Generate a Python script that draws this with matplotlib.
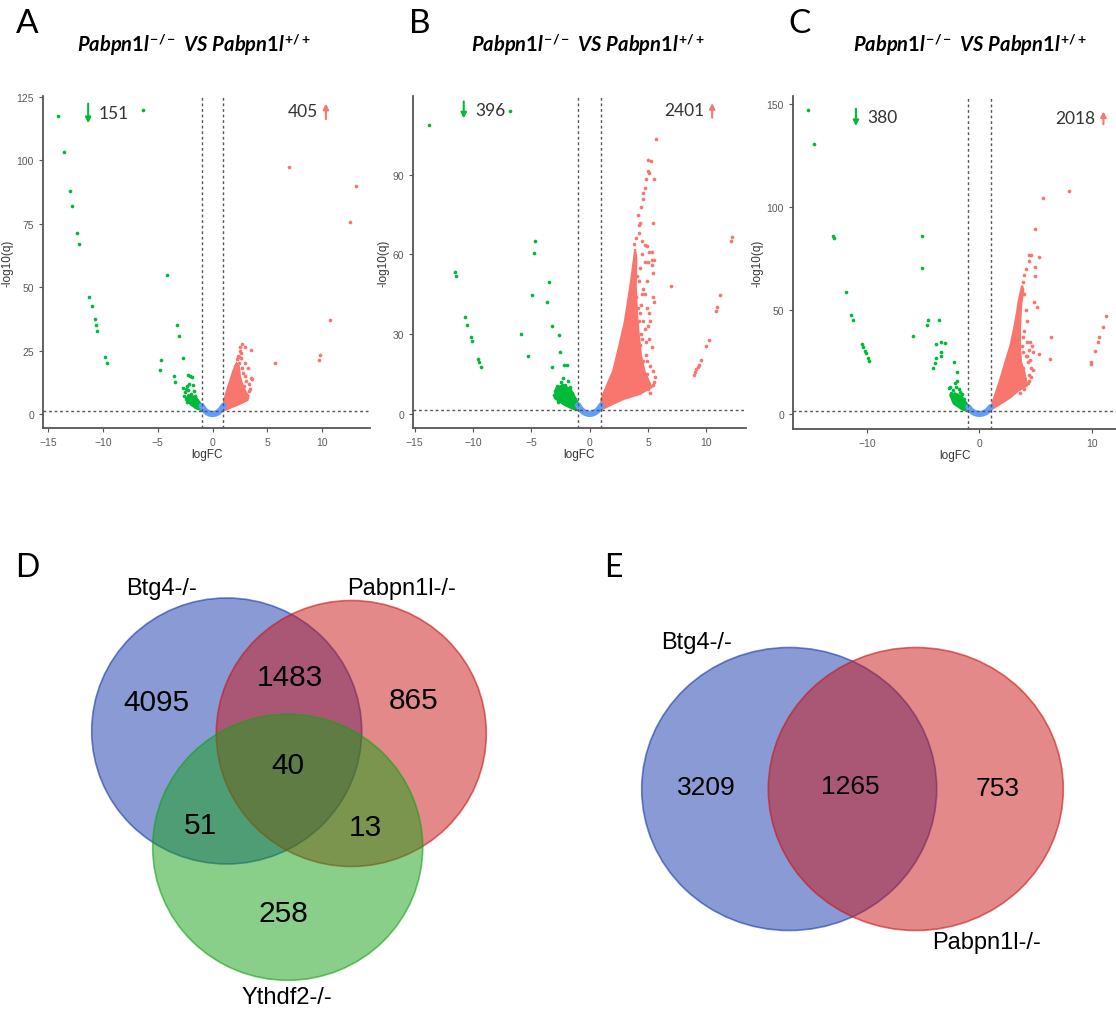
import matplotlib
matplotlib.use('Agg')
import matplotlib.pyplot as plt
from matplotlib.patches import Ellipse, Polygon

W, H = 1116, 1012

# ---------- colours ----------
GREEN = '#00BA38'
RED = '#F8766D'
BLUE = '#619CFF'

# ---------- volcano data ----------
# panel A
a_gx = [-14.1, -13.57, -13.05, -12.84, -12.35, -12.23, -11.28, -11.04, -10.76, -10.64, -10.52, -9.82, -9.63,
        -6.34, -4.12, -4.70, -4.76, -3.26, -3.08, -2.74, -3.51, -3.41,
        -2.2, -2.04, -1.9, -2.35, -1.8, -2.7, -2.5, -2.6, -2.2, -2.0, -1.7, -2.4, -2.1, -1.9, -1.6, -1.5,
        -1.3, -1.2, -1.1, -1.4, -1.7, -2.0, -2.3, -1.8, -2.45, -2.15]
a_gy = [117.5, 103, 87.7, 82, 71.4, 66.9, 45.9, 42.5, 37.3, 34.9, 32.5, 22.6, 20.2,
        119.6, 54.6, 21.4, 17.2, 35.2, 30.7, 21.9, 14.8, 12.7,
        15.5, 15, 14.4, 11.2, 11.4, 10.1, 8.5, 7.2, 9.5, 8, 9.2, 6, 6.5, 5.5, 7, 5,
        4, 3, 2.2, 2.7, 3.5, 4.5, 4.8, 6.2, 9.8, 12.0]
a_rx = [6.95, 13.14, 12.56, 10.73, 9.85, 9.73, 5.67,
        2.38, 2.69, 2.93, 2.47, 3.5, 2.32, 2.6, 2.2, 2.45, 2.7, 2.8, 3.0, 3.5, 3.6, 3.3, 3.45, 2.9, 3.1,
        2.6, 2.55, 3.0, 3.2, 2.1, 2.35, 3.35, 2.85]
a_ry = [97.4, 89.9, 75.7, 37.1, 23.2, 21.3, 20.1,
        22.3, 27.6, 26.5, 26.2, 25.3, 23.0, 24.0, 21.5, 20.0, 18.0, 16.0, 15.0, 14.0, 13.8, 12.0, 10.0, 11.0, 13.0,
        22.0, 25.0, 20.0, 18.0, 19.0, 17.0, 9.0, 7.5]
a_r_core = [(1.0, 1.5), (1.0, 4), (1.3, 9), (1.6, 13), (1.9, 17), (2.2, 20), (2.4, 19), (2.5, 15), (2.7, 12),
            (3.0, 9), (3.3, 7), (3.2, 5.5), (2.5, 4), (1.8, 2.8), (1.3, 1.8)]
a_g_core = [(-1.0, 1.5), (-1.0, 3.5), (-1.5, 6.5), (-2.2, 7.5), (-2.4, 6), (-2.0, 3.8), (-1.5, 2.2)]

# panel B
b_gx = [-13.8, -6.8, -11.51, -11.43, -10.69, -10.49, -10.17, -10.11, -9.6, -9.46, -9.34,
        -4.66, -4.74, -3.51, -4.97, -3.66, -5.89, -3.23, -2.66, -5.31, -2.57, -3.23, -2.23, -1.94,
        -3.0, -2.8, -2.5, -2.3, -2.1, -1.9, -1.7, -1.5, -1.3, -2.9, -2.6, -2.4, -2.0, -1.8, -1.6,
        -1.2, -1.1, -2.2, -2.7, -3.1, -1.4]
b_gy = [108.8, 114, 53.3, 51.8, 36.4, 33.5, 28.9, 27.6, 20.7, 19.4, 17.8,
        64.9, 60.6, 49.8, 44.7, 42, 30.2, 33.2, 29.7, 21.7, 23.2, 17.7, 18.4, 18.4,
        8.5, 10.5, 12.0, 13.5, 11.0, 12.5, 10.0, 8.0, 5.5, 6.0, 7.5, 9.0, 9.5, 7.0, 6.5,
        3.5, 2.5, 5.0, 4.5, 7.0, 4.0]
b_rx = [5.69, 5.0, 5.29, 4.97, 5.11, 5.49, 12.2, 12.14, 6.97, 11.14, 10.91, 10.86, 10.2, 10.0, 9.54,
        9.34, 9.14, 8.97, 9.05, 9.25,
        4.26, 4.3, 4.2, 4.4, 4.57, 4.6, 4.7, 4.86, 5.4, 5.3, 5.35, 5.3, 5.4, 5.4, 5.5, 5.0, 4.9, 4.5,
        4.7, 4.9, 4.3, 4.5, 4.9, 4.6, 5.0, 4.4, 4.8, 5.3, 4.1, 4.6, 5.2, 4.9, 5.5, 4.0, 4.2, 3.95, 4.1,
        4.35, 4.6, 4.71, 5.11, 5.51, 4.15, 4.45, 3.8, 4.05, 4.75, 5.05,
        3.5, 3.8, 4.2, 4.6, 5.0, 5.4, 4.8, 5.1, 4.5, 4.2, 4.4, 4.7, 5.2, 3.7, 3.9, 4.3, 4.9, 5.4, 5.2,
        4.1, 3.6, 4.8, 5.6, 4.0, 4.3]
b_ry = [103.5, 95.5, 95.1, 91.2, 90.7, 88.2, 66.4, 65.2, 48.3, 44.9, 40.2, 38.6, 27.7, 25.7, 20.1,
        18.4, 16.9, 14.7, 15.8, 17.6,
        70.9, 72, 68, 78, 81, 83, 85, 88.5, 72, 61, 58, 56, 53, 44, 42, 57, 63, 65,
        57, 50, 55, 45, 40, 35, 33, 30, 27, 25, 24, 20, 18, 15, 12, 44, 50, 66, 40,
        38, 47, 63.4, 60.8, 57.8, 75, 60, 64, 52, 45, 38,
        20, 15, 12, 10, 9.5, 11, 22, 28, 28, 35, 41, 32, 35, 28, 24, 18, 20, 16, 8,
        8.5, 9, 13, 14, 14, 26]
b_r_core = [(1.0, 1.8), (1.0, 5.6), (1.5, 11), (2.0, 16), (2.5, 25), (3.0, 34.5), (3.3, 43), (3.57, 50.8),
            (3.75, 57), (3.9, 62), (4.0, 58), (3.95, 48), (4.05, 38), (4.2, 30), (4.4, 22), (4.7, 16),
            (5.1, 12), (5.3, 10), (4.3, 7.5), (2.9, 5.6), (1.9, 3.6), (1.3, 2.3)]
b_g_core = [(-1.0, 1.5), (-1.0, 4.0), (-1.6, 9.0), (-2.3, 11.0), (-2.9, 9.5), (-3.0, 6.0), (-2.2, 3.5),
            (-1.5, 2.0)]

# panel C
c_gx = [-15.24, -14.7, -13.05, -12.96, -11.92, -11.42, -11.27, -10.44, -10.33, -10.2, -10.12, -9.94, -9.85,
        -5.09, -5.09, -5.95, -4.56, -4.64, -3.61, -3.9, -3.43, -3.11, -3.46, -3.4, -3.9, -3.99, -4.14,
        -2.28, -2.04, -2.6, -2.4, -2.2, -2.0, -1.8, -1.6, -1.4, -1.2, -2.5, -2.1, -1.9, -1.7, -1.5,
        -2.7, -1.1]
c_gy = [146.8, 130.6, 86, 85.2, 59, 47.9, 45.6, 33.9, 32.3, 30.2, 29.4, 27.1, 25.8,
        85.8, 70.6, 37.6, 45.6, 43.2, 45.3, 33.9, 35, 34.2, 29.8, 27.9, 27.1, 24.7, 22.3,
        25, 20.2, 13.0, 11.5, 15.0, 16.0, 12.0, 9.5, 7.0, 4.5, 10.0, 13.0, 8.5, 10.5, 6.0,
        12.5, 3.0]
c_rx = [7.96, 5.62, 4.94, 4.56, 4.4, 5.3, 4.94, 4.91, 4.82, 5.09, 6.36, 5.27, 6.25,
        11.27, 10.98, 10.68, 10.56, 10.27, 9.91, 9.95,
        4.23, 4.5, 3.9, 4.3, 4.6, 4.0, 4.2, 4.1, 3.95, 4.4, 4.1, 4.8, 4.38, 4.1, 4.0, 4.7, 3.85, 4.45,
        3.5, 3.8, 4.0, 4.3, 4.6, 3.9, 4.2, 3.8, 4.5, 4.8, 3.6, 3.9, 4.4]
c_ry = [107.9, 104.4, 89.2, 76.6, 76.6, 76.1, 71, 66.8, 54, 51.6, 37.1, 29, 26.6,
        47.1, 41.9, 37.1, 34.7, 30.2, 25, 24.2,
        35, 35, 30, 25, 22, 40, 45, 50, 58, 19, 28, 30, 74, 70, 67, 33, 64, 16,
        20, 18, 12, 15, 18, 22, 28, 33, 26, 21, 10, 37, 31]
c_r_core = [(1.0, 2.5), (1.13, 4.8), (1.5, 11), (1.86, 16.9), (2.3, 25), (2.75, 33), (3.1, 42), (3.34, 49.2),
            (3.5, 55), (3.79, 62), (3.9, 60), (3.7, 52), (3.6, 42), (3.6, 32), (3.7, 25), (4.0, 20),
            (4.2, 15), (4.23, 13.7), (3.4, 11), (2.75, 8), (1.9, 5), (1.3, 3)]
c_g_core = [(-1.0, 1.5), (-1.0, 4.0), (-1.6, 8.5), (-2.2, 10.0), (-2.6, 9.0), (-2.3, 5.0), (-1.5, 2.0)]

# non-significant genes, U shape between -1 and 1
blue_x = [-1.0, -0.9, -0.8, -0.7, -0.6, -0.5, -0.4, -0.3, -0.2, -0.1, 0.0,
          0.1, 0.2, 0.3, 0.4, 0.5, 0.6, 0.7, 0.8, 0.9, 1.0]
blue_y = [3.2, 2.5, 1.9, 1.4, 1.0, 0.7, 0.45, 0.25, 0.12, 0.05, 0.0,
          0.05, 0.12, 0.25, 0.45, 0.7, 1.0, 1.4, 1.9, 2.5, 3.2]

down_counts = [151, 396, 380]
up_counts = [405, 2401, 2018]

# ---------- venn data ----------
venn3_sets = ['Btg4-/-', 'Pabpn1l-/-', 'Ythdf2-/-']
venn3_counts = [4095, 1483, 865, 40, 51, 13, 258]
venn2_sets = ['Btg4-/-', 'Pabpn1l-/-']
venn2_counts = [3209, 1265, 753]

VENN_BLUE = '#1537AB'
VENN_RED = '#C91515'
VENN_GREEN = '#15A115'

plt.rcParams['font.family'] = ['Liberation Sans', 'DejaVu Sans']
plt.rcParams['mathtext.fontset'] = 'custom'
plt.rcParams['mathtext.it'] = 'Lato:italic:bold'
plt.rcParams['mathtext.rm'] = 'Lato:bold'
plt.rcParams['mathtext.bf'] = 'Lato:bold'

fig = plt.figure(figsize=(W / 100, H / 100), dpi=100)

# background axes in pixel units for letters, titles and the venn diagrams
bg = fig.add_axes([0, 0, 1, 1])
bg.set_xlim(0, W)
bg.set_ylim(H, 0)
bg.axis('off')


def px_rect(left, top, right, bottom):
    return [left / W, (H - bottom) / H, (right - left) / W, (bottom - top) / H]


def volcano(rect, xlim, ylim, xticks, yticks, gx, gy, rx, ry, g_core, r_core,
            down_n, up_n, down_pos, up_pos):
    ax = fig.add_axes(rect)
    ax.add_patch(Polygon(g_core, closed=True, facecolor=GREEN, edgecolor=GREEN, lw=1.5, zorder=2))
    ax.add_patch(Polygon(r_core, closed=True, facecolor=RED, edgecolor=RED, lw=1.5, zorder=2))
    ax.scatter(gx, gy, s=7, color=GREEN, linewidths=0, zorder=3)
    ax.scatter(rx, ry, s=7, color=RED, linewidths=0, zorder=3)
    ax.plot(blue_x, blue_y, color=BLUE, lw=4.5, solid_capstyle='round', zorder=3)
    for v in (-1, 1):
        ax.axvline(v, color='#555555', lw=1, ls=(0, (2, 2)), zorder=4)
    ax.axhline(1.3, color='#555555', lw=1, ls=(0, (2, 2)), zorder=4)
    ax.set_xlim(*xlim)
    ax.set_ylim(*ylim)
    ax.set_xticks(xticks)
    ax.set_yticks(yticks)
    for s in ('top', 'right'):
        ax.spines[s].set_visible(False)
    for s in ('left', 'bottom'):
        ax.spines[s].set_color('#555555')
        ax.spines[s].set_linewidth(1.3)
    ax.tick_params(labelsize=7.5, labelcolor='#5A5A5A', color='#555555', length=3, width=0.8)
    ax.set_xlabel('logFC', fontsize=8.5, color='#333333', labelpad=1)
    ax.set_ylabel('-log10(q)', fontsize=8.5, color='#333333', labelpad=2)
    # arrows with counts
    dx, dtop, dbot = down_pos
    ax.annotate('', xy=(dx, dbot), xytext=(dx, dtop),
                arrowprops=dict(arrowstyle='-|>', color=GREEN, lw=1.5, mutation_scale=8))
    ax.text(dx + 1.0, (dtop + dbot) / 2, str(down_n), fontsize=12.5, family='Lato', color='#333333',
            ha='left', va='center')
    ux, ubot, utop = up_pos
    ax.annotate('', xy=(ux, utop), xytext=(ux, ubot),
                arrowprops=dict(arrowstyle='-|>', color=RED, lw=1.5, mutation_scale=8))
    ax.text(ux - 0.7, (utop + ubot) / 2, str(up_n), fontsize=12.5, family='Lato', color='#333333',
            ha='right', va='center')
    return ax


volcano(px_rect(43, 97, 370, 429), (-15.5, 14.4), (-5.5, 125.2), [-15, -10, -5, 0, 5, 10],
        [0, 25, 50, 75, 100, 125], a_gx, a_gy, a_rx, a_ry, a_g_core, a_r_core,
        down_counts[0], up_counts[0], (-11.37, 123.3, 113.4), (10.37, 115, 123.3))
volcano(px_rect(413, 97, 746, 429), (-15.15, 13.4), (-5.3, 119.6), [-15, -10, -5, 0, 5, 10],
        [0, 30, 60, 90], b_gx, b_gy, b_rx, b_ry, b_g_core, b_r_core,
        down_counts[1], up_counts[1], (-10.8, 118.6, 110.1), (10.5, 110.4, 118))
volcano(px_rect(793, 97, 1116, 430), (-16.6, 12.15), (-7.3, 153.7), [-10, 0, 10],
        [0, 50, 100, 150], c_gx, c_gy, c_rx, c_ry, c_g_core, c_r_core,
        down_counts[2], up_counts[2], (-11.0, 148.9, 137.8), (11.03, 138.7, 147.6))

title = r'$\mathit{Pabpn1l}^{-/-}\ \mathit{VS}\ \mathit{Pabpn1l}^{+/+}$'
for letter, lx, tx in [('A', 27, 194), ('B', 420, 588), ('C', 799, 970)]:
    bg.text(lx, 24, letter, fontsize=24, family='Lato', ha='center', va='center')
    bg.text(tx, 45, title, fontsize=14.5, ha='center', va='center')

# ---------- D: three-set venn ----------
bg.text(27, 568, 'D', fontsize=23, family='Lato', ha='center', va='center')
for (cx, cy), col in [((226.7, 732), VENN_BLUE), ((351.3, 734.5), VENN_RED), ((287.7, 848.3), VENN_GREEN)]:
    bg.add_patch(Ellipse((cx, cy), 270, 266, facecolor=col, alpha=0.5, edgecolor='none'))
    bg.add_patch(Ellipse((cx, cy), 270, 266, facecolor='none', edgecolor=col, alpha=0.6, lw=1.2))
for name, (x, y) in zip(venn3_sets, [(161.7, 589), (401.7, 589), (286.7, 998)]):
    bg.text(x, y, name, fontsize=17, ha='center', va='center')
for n, (x, y) in zip(venn3_counts, [(156.7, 703), (290, 678), (413.3, 701), (288.3, 766),
                                    (200, 826), (365, 828), (283.3, 914)]):
    bg.text(x, y, str(n), fontsize=21.5, ha='center', va='center')

# ---------- E: two-set venn ----------
bg.text(613, 568, 'E', fontsize=23, family='Lato', ha='center', va='center')
for (cx, cy), col in [((789.2, 790), VENN_BLUE), ((915.8, 790), VENN_RED)]:
    bg.add_patch(Ellipse((cx, cy), 295, 283, facecolor=col, alpha=0.5, edgecolor='none'))
    bg.add_patch(Ellipse((cx, cy), 295, 283, facecolor='none', edgecolor=col, alpha=0.6, lw=1.2))
for name, (x, y) in zip(venn2_sets, [(696.7, 643), (986.7, 943)]):
    bg.text(x, y, name, fontsize=17, ha='center', va='center')
for n, (x, y) in zip(venn2_counts, [(706.7, 788), (850.7, 787), (997.3, 789)]):
    bg.text(x, y, str(n), fontsize=19, ha='center', va='center')

fig.savefig('out.png', dpi=100)
